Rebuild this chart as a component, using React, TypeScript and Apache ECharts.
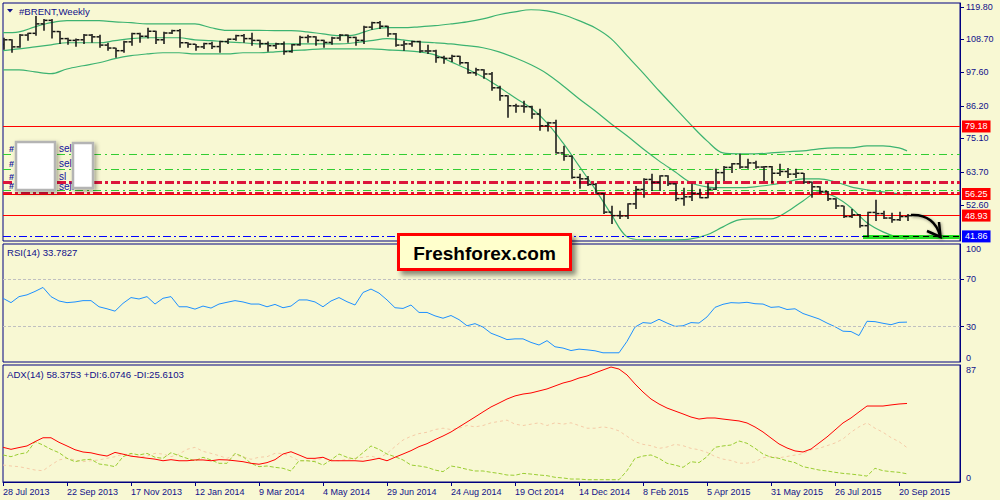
import React, { useEffect, useRef } from "react";
import * as echarts from "echarts";

const BG = "#F8F8D3";
const NAVY = "#10108A";
const FONT = '"Liberation Sans", Arial, sans-serif';

// ---- axis tick labels ----
const xLabelIdx = [0, 8, 16, 24, 32, 40, 48, 56, 64, 72, 80, 88, 96, 104, 112];
const xLabels = [
  "28 Jul 2013", "22 Sep 2013", "17 Nov 2013", "12 Jan 2014", "9 Mar 2014",
  "4 May 2014", "29 Jun 2014", "24 Aug 2014", "19 Oct 2014", "14 Dec 2014",
  "8 Feb 2015", "5 Apr 2015", "31 May 2015", "26 Jul 2015", "20 Sep 2015",
];
const priceTicks = [119.8, 108.7, 97.6, 86.2, 75.1, 63.7, 52.6];
const rsiTicksMid = [30, 70];
const rsiTickTop = [100];
const rsiTickBottom = [0];
const adxTickTop = [87];
const adxTickBottom = [0];

// ---- weekly OHLC (#BRENT) ----
const open = [107.0,108.6,106.2,110.2,110.8,114.0,115.2,111.4,109.0,108.4,
108.6,110.2,109.6,106.8,105.8,104.9,107.9,110.7,109.8,111.5,
108.6,110.9,111.7,107.6,107.1,106.2,107.3,106.3,108.0,108.8,
110.0,109.0,108.4,107.3,106.6,107.2,104.6,106.9,109.4,109.6,
108.4,107.7,109.2,110.2,109.4,108.4,112.9,114.4,113.2,110.6,
106.8,107.2,108.0,104.8,104.8,102.6,102.3,103.0,100.8,97.4,
98.4,97.0,92.3,89.6,86.2,86.1,85.9,83.4,79.4,80.4,
70.2,69.1,61.9,61.4,59.5,56.4,50.1,48.9,48.8,52.9,
57.8,61.2,60.2,62.4,59.7,54.7,55.3,56.4,55.0,57.9,
63.5,65.3,66.5,65.4,66.8,65.4,65.5,63.3,63.9,63.0,
63.3,60.3,58.7,57.1,54.6,52.2,48.6,49.2,45.5,50.0,
49.6,48.1,47.5,48.6];
const high = [109.3,108.8,110.6,111.0,116.7,115.7,115.7,111.6,109.3,109.0,
110.6,110.6,110.3,107.6,105.9,108.3,111.0,111.0,112.7,111.7,
111.3,112.0,112.3,107.8,107.2,107.6,107.9,108.3,109.0,110.3,
110.6,111.0,108.6,108.0,107.6,108.0,107.2,110.0,110.3,109.8,
108.6,109.6,110.6,110.4,109.6,113.4,114.7,115.0,113.4,110.9,
108.3,108.3,108.3,106.9,105.2,103.2,103.5,103.2,101.1,99.1,
98.6,97.7,93.0,89.8,86.9,87.9,86.2,85.2,80.8,81.5,
72.6,69.3,63.1,62.4,60.0,56.6,52.3,50.6,53.1,59.0,
61.6,63.1,62.6,62.6,59.9,58.4,59.7,58.0,60.0,64.8,
65.8,66.8,69.9,68.2,67.5,65.8,65.8,66.5,65.1,64.8,
63.4,60.5,58.9,57.3,54.8,52.3,51.2,49.5,50.2,54.3,
50.6,49.9,50.2,49.5];
const low = [105.2,104.2,105.9,108.3,110.0,111.7,109.0,107.2,106.9,106.2,
107.2,107.6,105.9,104.9,102.5,104.2,106.6,107.6,109.0,107.2,
107.2,110.6,105.9,105.9,104.9,105.5,105.5,104.2,107.2,108.3,
107.6,106.6,105.9,104.5,105.5,103.5,104.2,106.6,107.6,106.6,
105.9,106.9,108.3,107.6,106.6,107.2,112.0,112.3,109.6,106.2,
104.9,106.2,104.2,103.8,100.8,100.5,101.1,100.1,97.1,96.4,
95.4,91.3,87.9,82.1,83.8,83.8,81.8,77.7,77.5,70.0,
67.5,61.4,58.0,59.0,56.3,49.5,46.1,47.8,47.8,51.2,
55.0,57.3,57.3,59.0,53.9,52.3,53.9,54.8,54.8,57.6,
60.7,63.4,64.8,64.8,64.8,60.7,60.0,62.4,61.7,61.7,
59.7,55.0,56.3,53.9,51.2,48.1,48.1,44.8,41.6,47.1,
47.8,46.5,47.1,47.1];
const close = [108.6,106.2,110.2,110.8,114.0,115.2,111.4,109.0,108.4,108.6,
110.2,109.6,106.8,105.8,104.9,107.9,110.7,109.8,111.5,108.6,
110.9,111.7,107.6,107.1,106.2,107.3,106.3,108.0,108.8,110.0,
109.0,108.4,107.3,106.6,107.2,104.6,106.9,109.4,109.6,108.4,
107.7,109.2,110.2,109.4,108.4,112.9,114.4,113.2,110.6,106.8,
107.2,108.0,104.8,104.8,102.6,102.3,103.0,100.8,97.4,98.4,
97.0,92.3,89.6,86.2,86.1,85.9,83.4,79.4,80.4,70.2,
69.1,61.9,61.4,59.5,56.4,50.1,48.9,48.8,52.9,57.8,
61.2,60.2,62.4,59.7,54.7,55.3,56.4,55.0,57.9,63.5,
65.3,66.5,65.4,66.8,65.4,65.5,63.3,63.9,63.0,63.3,
60.3,58.7,57.1,54.6,52.2,48.6,49.2,45.5,50.0,49.6,
48.1,47.5,48.6,48.9];

// ---- Bollinger bands, read every second bar ----
const bandIdx = [0,2,4,6,8,10,12,14,16,18,20,22,24,26,28,30,32,34,36,38,40,42,44,46,48,50,52,54,56,58,
60,62,64,66,68,70,72,74,76,78,80,82,84,86,88,90,92,94,96,98,100,102,104,106,108,110,112,113];
const bbUpper = [111.0,111.3,113.0,114.4,115.1,115.1,115.1,114.7,114.4,114.0,
114.0,114.0,114.0,112.7,111.8,111.8,111.8,111.7,111.7,111.3,
110.6,110.0,110.3,112.0,112.7,112.7,113.0,113.4,114.0,114.7,
115.7,117.1,118.1,118.8,118.4,117.1,115.1,112.7,109.0,103.2,
97.4,91.3,85.5,79.7,74.3,70.2,69.9,69.9,70.2,70.6,
70.9,71.6,71.9,71.9,72.6,72.6,71.9,70.9];
const bbMiddle = [104.9,105.5,106.2,106.9,107.6,107.6,107.6,108.3,109.0,109.3,
109.3,109.3,108.6,108.3,107.9,107.6,107.2,107.2,107.2,107.2,
107.2,107.2,107.6,108.3,109.0,108.6,107.9,107.6,107.2,106.6,
105.9,104.5,102.5,100.1,97.1,93.0,88.6,84.5,80.1,76.0,
71.6,67.5,63.8,60.1,58.7,58.4,58.4,58.7,59.4,60.4,
61.4,61.4,60.4,58.7,57.7,57.0,56.3,56.0];
const bbLower = [98.4,98.4,97.7,97.1,98.7,99.8,100.8,102.2,103.2,103.8,
104.2,104.2,103.8,103.8,103.8,104.2,104.2,104.5,104.9,105.2,
105.5,105.5,105.5,105.5,105.2,104.9,104.5,103.5,101.1,98.7,
96.0,92.6,88.9,85.5,80.4,73.6,65.8,58.0,49.5,41.7,
40.7,40.7,40.7,41.0,42.4,45.1,47.5,47.8,47.8,50.2,
53.9,57.0,55.3,51.6,46.5,43.4,41.4,41.0];

// ---- horizontal levels ----
const redLevels = [79.18, 56.25, 48.93];
const greenDashLevels = [69.73, 64.64, 57.51];
const crimsonDashLevels = [60.09, 56.5];
const supportLevel = 41.86;
const supportFromIdx = 107.5;

// ---- RSI(14) ----
const rsi = [54.0,50.3,55.4,56.9,59.8,63.2,55.4,51.7,50.3,50.9,
52.0,52.0,46.8,45.1,43.1,49.7,54.6,53.4,55.4,49.1,
54.0,55.4,46.8,46.8,44.8,47.4,45.7,49.1,50.6,52.0,
50.9,49.1,49.1,46.8,48.8,46.0,47.4,52.6,52.6,50.9,
46.8,51.7,54.6,51.1,48.3,58.9,61.8,58.4,52.6,46.0,
45.4,48.3,42.0,42.0,39.1,37.1,39.4,35.9,30.7,32.5,
29.6,24.4,21.8,19.0,19.6,19.6,16.6,14.4,18.1,12.9,
11.8,9.7,10.9,10.3,9.5,7.8,7.8,7.8,17.5,29.6,
33.4,32.8,36.2,33.0,30.2,30.7,33.4,33.0,38.2,46.3,
48.9,50.3,50.0,50.6,49.4,49.1,46.3,46.8,44.5,45.1,
41.1,38.8,36.5,33.0,29.9,26.1,25.8,22.4,34.5,34.2,
32.8,31.6,33.6,33.8];
const rsiLevels = [70, 30];

// ---- ADX(14) ----
const adx = [25.8,24.3,25.6,26.8,30.0,32.9,32.9,29.5,26.8,24.0,
22.3,21.7,20.3,19.3,22.0,20.7,19.2,18.5,17.7,17.0,
15.8,16.6,15.8,15.8,16.4,16.4,15.8,16.6,16.4,15.8,
15.1,13.9,13.2,14.4,16.6,20.8,22.5,20.1,17.6,17.6,
18.4,15.8,15.8,15.8,15.8,15.4,16.4,17.6,15.8,18.4,
20.8,23.3,26.3,28.5,31.5,34.2,37.2,40.9,44.6,48.3,
52.1,55.8,58.7,61.7,64.0,65.4,66.2,67.7,69.2,71.4,
73.6,75.1,77.3,78.8,81.1,83.3,85.5,84.0,79.6,72.9,
66.9,61.7,58.0,55.0,52.8,50.6,48.3,46.8,47.6,47.6,
46.8,46.1,45.4,43.9,40.9,37.2,32.7,28.3,25.3,23.1,
22.3,24.5,29.0,33.5,38.7,43.9,47.6,52.1,56.5,56.5,
56.5,57.3,58.0,58.4];
const plusDI = [20.1,18.8,20.8,21.8,30.0,27.5,24.3,21.8,17.6,15.1,
16.4,16.9,13.4,12.6,11.4,18.8,21.3,20.1,21.3,18.4,
17.6,21.8,19.6,17.6,15.8,18.4,16.4,13.9,13.9,21.3,
18.8,13.9,11.4,11.9,10.9,10.2,8.2,15.8,15.8,15.1,
12.6,16.4,20.8,18.4,16.9,21.8,26.8,24.3,20.8,18.8,
16.4,12.6,11.9,10.9,8.9,7.7,11.9,10.9,9.4,8.2,
8.2,7.2,6.4,5.2,5.0,6.4,5.9,5.2,4.7,3.5,
3.0,2.2,2.2,1.7,1.7,1.7,1.7,1.7,8.4,17.6,
19.3,20.1,17.6,13.9,12.6,10.9,15.1,14.4,18.8,25.8,
26.8,27.5,30.5,28.8,25.1,20.8,18.4,17.6,15.8,14.4,
11.4,10.2,8.9,8.2,7.2,6.4,5.9,5.2,4.4,10.2,
8.4,7.7,7.2,6.1];
const minusDI = [12.6,11.9,11.4,10.2,8.9,8.4,12.6,16.4,17.6,16.4,
15.1,15.8,16.4,17.6,18.8,20.8,20.1,18.4,19.3,21.3,
20.8,18.8,20.8,24.3,25.8,22.8,21.3,19.6,17.6,20.1,
18.8,16.9,18.4,18.8,21.3,21.3,18.8,15.8,15.8,16.4,
17.6,16.4,15.8,16.9,17.6,18.4,19.3,17.6,21.3,26.3,
31.2,34,36,37,39,40,39,40,42,41,
42,44,45,46,43,42,43,44,42,44,
43,44,42,40,40,41,40,38,34,30,
28,27,25,26,28,27,25,24,22,19,
17,16,14,14,15,18,19,18,19,20,
21,24,25,27,29,32,37,41,44,40,
37,33,30,25.6];

// ---- object labels partly hidden by the boxes ----
const objLabelRows = [148.5, 163.5, 176.5, 186];
const objLabelTexts = ["sell", "sell", "sl", "sell"];

const X_MAX = 119.625;

export default function App() {
  const ref = useRef<HTMLDivElement>(null);

  useEffect(() => {
    const chart = echarts.init(ref.current as HTMLDivElement, null, { renderer: "svg" });

    const axisTextStyle = { color: NAVY, fontSize: 9, fontFamily: FONT };
    const hiddenX = (g: number) => ({
      type: "value", gridIndex: g, min: 0, max: X_MAX, show: false,
      axisLine: { onZero: false },
    });

    const priceLabel = (v: number, bg: string) => ({
      show: true, position: "end", distance: 2, formatter: v.toFixed(2),
      backgroundColor: bg, color: "#FFFFFF", padding: [1, 3, 1, 3],
      fontSize: 9, fontFamily: FONT, lineHeight: 10,
    });

    const markData: any[] = [];
    greenDashLevels.forEach((v) =>
      markData.push({ yAxis: v, lineStyle: { color: "#32CD32", width: 1.2, type: [8, 4, 2, 4] }, label: { show: false } })
    );
    crimsonDashLevels.forEach((v) =>
      markData.push({ yAxis: v, lineStyle: { color: "#DC143C", width: 3, type: [9, 3, 3, 3] }, label: { show: false } })
    );
    redLevels.forEach((v) =>
      markData.push({ yAxis: v, lineStyle: { color: "#FF0000", width: 1, type: "solid" }, label: priceLabel(v, "#FF0000") })
    );
    markData.push({ yAxis: supportLevel, lineStyle: { color: "#0000FF", width: 1, type: [8, 3, 2, 3] }, label: priceLabel(supportLevel, "#0000FF") });
    markData.push([
      { coord: [supportFromIdx, supportLevel], lineStyle: { color: "#22DD22", width: 4, type: "solid" }, label: { show: false } },
      { coord: [X_MAX, supportLevel] },
    ]);
    markData.push([
      { coord: [supportFromIdx, supportLevel], lineStyle: { color: "#000000", width: 1, type: [6, 4] }, label: { show: false } },
      { coord: [X_MAX, supportLevel] },
    ]);

    const bandSeries = (vals: number[], name: string, withMarks: boolean) => ({
      type: "line", name, xAxisIndex: 0, yAxisIndex: 0, silent: true,
      data: bandIdx.map((x, k) => [x, vals[k]]),
      showSymbol: false, smooth: 0.35,
      lineStyle: { color: "#3CB371", width: 1.2 },
      z: 3,
      markLine: withMarks
        ? { silent: true, symbol: ["none", "none"], animation: false, data: markData }
        : undefined,
    });

    const yBase = { type: "value", position: "right", splitLine: { show: false } };

    const option: any = {
      animation: false,
      backgroundColor: BG,
      grid: [
        { left: 3, top: 3, width: 957, height: 238, show: true, borderColor: "#000080", borderWidth: 1 },
        { left: 3, top: 244, width: 957, height: 118, show: true, borderColor: "#000080", borderWidth: 1 },
        { left: 3, top: 365, width: 957, height: 117, show: true, borderColor: "#000080", borderWidth: 1 },
      ],
      xAxis: [
        hiddenX(0),
        hiddenX(1),
        {
          type: "value", gridIndex: 2, min: 0, max: X_MAX,
          axisLine: { show: true, onZero: false, lineStyle: { color: "#000080", width: 1 } },
          axisTick: { show: true, customValues: xLabelIdx, length: 4, lineStyle: { color: "#000080" } },
          axisLabel: {
            ...axisTextStyle, customValues: xLabelIdx, align: "left", margin: 5,
            formatter: (v: number) => xLabels[xLabelIdx.indexOf(Math.round(v))] ?? "",
          },
          splitLine: { show: false },
        },
      ],
      yAxis: [
        {
          ...yBase, gridIndex: 0, min: 40.3, max: 121.09,
          axisLine: { show: true, onZero: false, lineStyle: { color: "#000080" } },
          axisTick: { show: true, customValues: priceTicks, length: 4, lineStyle: { color: "#000080" } },
          axisLabel: { ...axisTextStyle, customValues: priceTicks, margin: 6, formatter: (v: number) => v.toFixed(2) },
        },
        {
          ...yBase, gridIndex: 1, min: 0, max: 100,
          axisLine: { show: true, onZero: false, lineStyle: { color: "#000080" } },
          axisTick: { show: true, customValues: rsiTicksMid, length: 4, lineStyle: { color: "#000080" } },
          axisLabel: { ...axisTextStyle, customValues: rsiTicksMid, margin: 6 },
        },
        {
          ...yBase, gridIndex: 1, min: 0, max: 100,
          axisLine: { show: false, onZero: false }, axisTick: { show: false },
          axisLabel: { ...axisTextStyle, customValues: rsiTickTop, margin: 6, verticalAlign: "top" },
        },
        {
          ...yBase, gridIndex: 1, min: 0, max: 100,
          axisLine: { show: false, onZero: false }, axisTick: { show: false },
          axisLabel: { ...axisTextStyle, customValues: rsiTickBottom, margin: 6, verticalAlign: "bottom" },
        },
        {
          ...yBase, gridIndex: 2, min: 0, max: 87,
          axisLine: { show: true, onZero: false, lineStyle: { color: "#000080" } },
          axisTick: { show: false },
          axisLabel: { ...axisTextStyle, customValues: adxTickTop, margin: 6, verticalAlign: "top" },
        },
        {
          ...yBase, gridIndex: 2, min: 0, max: 87,
          axisLine: { show: false, onZero: false }, axisTick: { show: false },
          axisLabel: { ...axisTextStyle, customValues: adxTickBottom, margin: 6, verticalAlign: "bottom" },
        },
      ],
      series: [
        bandSeries(bbUpper, "upper", false),
        bandSeries(bbMiddle, "middle", true),
        bandSeries(bbLower, "lower", false),
        {
          type: "custom", name: "BRENT", xAxisIndex: 0, yAxisIndex: 0, silent: true, clip: true, z: 5,
          data: open.map((o, i) => [i, o, high[i], low[i], close[i]]),
          encode: { x: 0, y: [1, 2, 3, 4] },
          renderItem: (_params: any, api: any) => {
            const i = api.value(0);
            const pO = api.coord([i, api.value(1)]);
            const pH = api.coord([i, api.value(2)]);
            const pL = api.coord([i, api.value(3)]);
            const pC = api.coord([i, api.value(4)]);
            const x = Math.round(pO[0]);
            const st = { fill: "#111111" };
            return {
              type: "group",
              children: [
                { type: "rect", shape: { x: x + 0.25, y: pH[1], width: 1.5, height: Math.max(1, pL[1] - pH[1]) }, style: st },
                { type: "rect", shape: { x: x - 2.5, y: pO[1] - 0.75, width: 3, height: 1.5 }, style: st },
                { type: "rect", shape: { x: x + 1.5, y: pC[1] - 0.75, width: 3, height: 1.5 }, style: st },
              ],
            };
          },
        },
        {
          type: "line", name: "RSI", xAxisIndex: 1, yAxisIndex: 1, silent: true,
          data: rsi.map((v, i) => [i, v]), showSymbol: false,
          lineStyle: { color: "#1E90FF", width: 1 },
          markLine: {
            silent: true, symbol: ["none", "none"], animation: false, label: { show: false },
            lineStyle: { color: "#C0C0C0", type: [3, 2], width: 1 },
            data: rsiLevels.map((v) => ({ yAxis: v })),
          },
        },
        {
          type: "line", name: "-DI", xAxisIndex: 2, yAxisIndex: 4, silent: true,
          data: minusDI.map((v, i) => [i, v]), showSymbol: false,
          lineStyle: { color: "#F5CBA7", width: 1, type: [3, 3] },
        },
        {
          type: "line", name: "+DI", xAxisIndex: 2, yAxisIndex: 4, silent: true,
          data: plusDI.map((v, i) => [i, v]), showSymbol: false,
          lineStyle: { color: "#9ACD32", width: 1, type: [4, 2] },
        },
        {
          type: "line", name: "ADX", xAxisIndex: 2, yAxisIndex: 4, silent: true,
          data: adx.map((v, i) => [i, v]), showSymbol: false,
          lineStyle: { color: "#FF0000", width: 1 }, z: 4,
        },
      ],
      graphic: {
        elements: [
          { type: "polygon", z: 50, shape: { points: [[7, 9], [13, 9], [10, 12.5]] }, style: { fill: NAVY } },
          { type: "text", z: 50, x: 19, y: 11, style: { text: "#BRENT,Weekly", fill: NAVY, font: `9.6px ${FONT}`, verticalAlign: "middle" } },
          { type: "text", z: 50, x: 7, y: 252.5, style: { text: "RSI(14) 33.7827", fill: NAVY, font: `9.6px ${FONT}`, verticalAlign: "middle" } },
          { type: "text", z: 50, x: 7, y: 374, style: { text: "ADX(14) 58.3753 +DI:6.0746 -DI:25.6103", fill: NAVY, font: `9.6px ${FONT}`, verticalAlign: "middle" } },
          ...objLabelRows.flatMap((y, k) => [
            { type: "text", z: 50, x: 9, y, style: { text: "#", fill: "#1414A0", font: `bold 9px ${FONT}`, verticalAlign: "middle" } },
            { type: "text", z: 50, x: 59, y, style: { text: objLabelTexts[k], fill: "#1414A0", font: `10px ${FONT}`, verticalAlign: "middle" } },
          ]),
          {
            type: "rect", z: 60, shape: { x: 16, y: 142, width: 39, height: 48 },
            style: { fill: "#FFFFFF", stroke: "#B4B4B4", lineWidth: 2.5, shadowBlur: 4, shadowOffsetX: 2, shadowOffsetY: 2, shadowColor: "rgba(0,0,0,0.35)" },
          },
          {
            type: "rect", z: 60, shape: { x: 73, y: 143, width: 20, height: 45 },
            style: { fill: "#FFFFFF", stroke: "#B4B4B4", lineWidth: 2.5, shadowBlur: 4, shadowOffsetX: 2, shadowOffsetY: 2, shadowColor: "rgba(0,0,0,0.35)" },
          },
          {
            type: "rect", z: 70, shape: { x: 398.5, y: 234.5, width: 172, height: 35 },
            style: { fill: "#FFFFCC", stroke: "#FF0000", lineWidth: 3, shadowBlur: 5, shadowOffsetX: 4, shadowOffsetY: 4, shadowColor: "rgba(0,0,0,0.45)" },
          },
          {
            type: "text", z: 71, x: 484.5, y: 253,
            style: { text: "Freshforex.com", fill: "#000000", font: `bold 19px ${FONT}`, align: "center", verticalAlign: "middle" },
          },
          {
            type: "bezierCurve", z: 72,
            shape: { x1: 911, y1: 215, cpx1: 927, cpy1: 214, cpx2: 937, cpy2: 223, x2: 940, y2: 236 },
            style: { stroke: "#000000", lineWidth: 2.5, fill: "none", shadowBlur: 3, shadowOffsetX: 1, shadowOffsetY: 1, shadowColor: "rgba(0,0,0,0.4)" },
          },
          {
            type: "polyline", z: 72, shape: { points: [[927, 231], [940.5, 237], [939, 222]] },
            style: { stroke: "#000000", lineWidth: 2.5, fill: "none", shadowBlur: 3, shadowOffsetX: 1, shadowOffsetY: 1, shadowColor: "rgba(0,0,0,0.4)" },
          },
        ],
      },
    };

    chart.setOption(option);
    return () => chart.dispose();
  }, []);

  return (
    <div
      ref={ref}
      style={{ position: "fixed", left: 0, top: 0, width: 1000, height: 500, background: BG }}
    />
  );
}
